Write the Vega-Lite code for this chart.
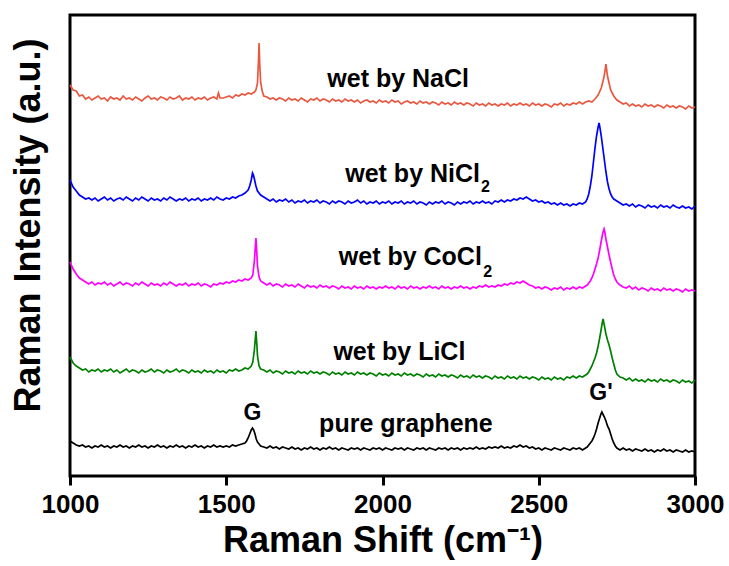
{
"$schema":"https://vega.github.io/schema/vega-lite/v6.json",
"width":625,"height":461,
"autosize":"none",
"padding":{"left":70,"top":15,"right":34,"bottom":90},
"background":"white",
"config":{"view":{"stroke":"black","strokeWidth":3},"font":"Liberation Sans"},
"datasets":{
"nacl":[{"x":1000,"y":391},{"x":1010,"y":386},{"x":1020,"y":385},{"x":1030,"y":380},{"x":1040,"y":381},{"x":1050,"y":377},{"x":1060,"y":379},{"x":1070,"y":376},{"x":1080,"y":378},{"x":1090,"y":380},{"x":1100,"y":377},{"x":1110,"y":378},{"x":1120,"y":375},{"x":1130,"y":379},{"x":1140,"y":377},{"x":1150,"y":378},{"x":1160,"y":376},{"x":1170,"y":380},{"x":1180,"y":377},{"x":1190,"y":378},{"x":1200,"y":376},{"x":1210,"y":379},{"x":1220,"y":377},{"x":1230,"y":375},{"x":1240,"y":378},{"x":1250,"y":380},{"x":1260,"y":377},{"x":1270,"y":378},{"x":1280,"y":376},{"x":1290,"y":379},{"x":1300,"y":378},{"x":1310,"y":376},{"x":1320,"y":379},{"x":1330,"y":377},{"x":1340,"y":378},{"x":1350,"y":380},{"x":1360,"y":376},{"x":1370,"y":378},{"x":1380,"y":377},{"x":1390,"y":379},{"x":1400,"y":376},{"x":1410,"y":378},{"x":1420,"y":377},{"x":1430,"y":379},{"x":1440,"y":376},{"x":1450,"y":378},{"x":1460,"y":379},{"x":1470,"y":377},{"x":1475,"y":383},{"x":1480,"y":378},{"x":1490,"y":378},{"x":1500,"y":379},{"x":1510,"y":380},{"x":1520,"y":378},{"x":1530,"y":381},{"x":1540,"y":380},{"x":1550,"y":382},{"x":1560,"y":381},{"x":1570,"y":383},{"x":1580,"y":382},{"x":1590,"y":384},{"x":1595,"y":386},{"x":1600,"y":393},{"x":1603,"y":414},{"x":1605,"y":433},{"x":1607,"y":413},{"x":1610,"y":394},{"x":1615,"y":385},{"x":1620,"y":380},{"x":1630,"y":379},{"x":1640,"y":377},{"x":1650,"y":378},{"x":1660,"y":376},{"x":1670,"y":378},{"x":1680,"y":377},{"x":1690,"y":375},{"x":1700,"y":378},{"x":1710,"y":376},{"x":1720,"y":377},{"x":1730,"y":375},{"x":1740,"y":378},{"x":1750,"y":376},{"x":1760,"y":374},{"x":1770,"y":377},{"x":1780,"y":376},{"x":1790,"y":378},{"x":1800,"y":375},{"x":1810,"y":377},{"x":1820,"y":376},{"x":1830,"y":374},{"x":1840,"y":377},{"x":1850,"y":375},{"x":1860,"y":376},{"x":1870,"y":374},{"x":1880,"y":377},{"x":1890,"y":375},{"x":1900,"y":376},{"x":1910,"y":374},{"x":1920,"y":376},{"x":1930,"y":373},{"x":1940,"y":375},{"x":1950,"y":376},{"x":1960,"y":374},{"x":1970,"y":375},{"x":1980,"y":373},{"x":1990,"y":376},{"x":2000,"y":374},{"x":2010,"y":375},{"x":2020,"y":373},{"x":2030,"y":376},{"x":2040,"y":374},{"x":2050,"y":375},{"x":2060,"y":372},{"x":2070,"y":374},{"x":2080,"y":375},{"x":2090,"y":373},{"x":2100,"y":374},{"x":2110,"y":372},{"x":2120,"y":375},{"x":2130,"y":373},{"x":2140,"y":374},{"x":2150,"y":372},{"x":2160,"y":374},{"x":2170,"y":373},{"x":2180,"y":371},{"x":2190,"y":374},{"x":2200,"y":372},{"x":2210,"y":373},{"x":2220,"y":371},{"x":2230,"y":374},{"x":2240,"y":372},{"x":2250,"y":373},{"x":2260,"y":371},{"x":2270,"y":373},{"x":2280,"y":372},{"x":2290,"y":370},{"x":2300,"y":373},{"x":2310,"y":371},{"x":2320,"y":372},{"x":2330,"y":370},{"x":2340,"y":373},{"x":2350,"y":371},{"x":2360,"y":372},{"x":2370,"y":370},{"x":2380,"y":372},{"x":2390,"y":371},{"x":2400,"y":373},{"x":2410,"y":370},{"x":2420,"y":372},{"x":2430,"y":371},{"x":2440,"y":373},{"x":2450,"y":371},{"x":2460,"y":372},{"x":2470,"y":370},{"x":2480,"y":373},{"x":2490,"y":371},{"x":2500,"y":372},{"x":2510,"y":370},{"x":2520,"y":372},{"x":2530,"y":371},{"x":2540,"y":369},{"x":2550,"y":372},{"x":2560,"y":371},{"x":2570,"y":373},{"x":2580,"y":370},{"x":2590,"y":372},{"x":2600,"y":371},{"x":2610,"y":373},{"x":2620,"y":372},{"x":2630,"y":374},{"x":2640,"y":372},{"x":2650,"y":374},{"x":2660,"y":375},{"x":2670,"y":374},{"x":2680,"y":377},{"x":2690,"y":381},{"x":2700,"y":388},{"x":2705,"y":394},{"x":2710,"y":401},{"x":2715,"y":412},{"x":2720,"y":400},{"x":2725,"y":393},{"x":2730,"y":386},{"x":2740,"y":380},{"x":2750,"y":376},{"x":2760,"y":374},{"x":2770,"y":372},{"x":2780,"y":373},{"x":2790,"y":370},{"x":2800,"y":372},{"x":2810,"y":370},{"x":2820,"y":371},{"x":2830,"y":369},{"x":2840,"y":372},{"x":2850,"y":370},{"x":2860,"y":371},{"x":2870,"y":369},{"x":2880,"y":371},{"x":2890,"y":370},{"x":2900,"y":368},{"x":2910,"y":371},{"x":2920,"y":369},{"x":2930,"y":370},{"x":2940,"y":368},{"x":2950,"y":370},{"x":2960,"y":369},{"x":2970,"y":367},{"x":2980,"y":370},{"x":2990,"y":368},{"x":3000,"y":369}],
"nicl":[{"x":1000,"y":296},{"x":1010,"y":289},{"x":1020,"y":285},{"x":1030,"y":281},{"x":1040,"y":279},{"x":1050,"y":277},{"x":1060,"y":278},{"x":1070,"y":276},{"x":1080,"y":278},{"x":1090,"y":275},{"x":1100,"y":277},{"x":1110,"y":279},{"x":1120,"y":276},{"x":1130,"y":278},{"x":1140,"y":275},{"x":1150,"y":277},{"x":1160,"y":278},{"x":1170,"y":276},{"x":1180,"y":279},{"x":1190,"y":277},{"x":1200,"y":275},{"x":1210,"y":278},{"x":1220,"y":276},{"x":1230,"y":279},{"x":1240,"y":277},{"x":1250,"y":275},{"x":1260,"y":278},{"x":1270,"y":276},{"x":1280,"y":277},{"x":1290,"y":275},{"x":1300,"y":278},{"x":1310,"y":276},{"x":1320,"y":279},{"x":1330,"y":277},{"x":1340,"y":275},{"x":1350,"y":277},{"x":1360,"y":276},{"x":1370,"y":278},{"x":1380,"y":275},{"x":1390,"y":277},{"x":1400,"y":276},{"x":1410,"y":278},{"x":1420,"y":275},{"x":1430,"y":277},{"x":1440,"y":276},{"x":1450,"y":278},{"x":1460,"y":276},{"x":1470,"y":279},{"x":1480,"y":277},{"x":1490,"y":276},{"x":1500,"y":278},{"x":1510,"y":277},{"x":1520,"y":279},{"x":1530,"y":278},{"x":1540,"y":280},{"x":1550,"y":281},{"x":1560,"y":283},{"x":1570,"y":286},{"x":1575,"y":290},{"x":1580,"y":296},{"x":1584,"y":303},{"x":1587,"y":301},{"x":1590,"y":297},{"x":1595,"y":290},{"x":1600,"y":285},{"x":1610,"y":281},{"x":1620,"y":279},{"x":1630,"y":277},{"x":1640,"y":275},{"x":1650,"y":277},{"x":1660,"y":274},{"x":1670,"y":276},{"x":1680,"y":275},{"x":1690,"y":277},{"x":1700,"y":274},{"x":1710,"y":276},{"x":1720,"y":273},{"x":1730,"y":275},{"x":1740,"y":274},{"x":1750,"y":276},{"x":1760,"y":273},{"x":1770,"y":275},{"x":1780,"y":274},{"x":1790,"y":276},{"x":1800,"y":273},{"x":1810,"y":275},{"x":1820,"y":274},{"x":1830,"y":272},{"x":1840,"y":275},{"x":1850,"y":273},{"x":1860,"y":275},{"x":1870,"y":274},{"x":1880,"y":272},{"x":1890,"y":275},{"x":1900,"y":273},{"x":1910,"y":274},{"x":1920,"y":276},{"x":1930,"y":273},{"x":1940,"y":275},{"x":1950,"y":272},{"x":1960,"y":274},{"x":1970,"y":273},{"x":1980,"y":275},{"x":1990,"y":272},{"x":2000,"y":274},{"x":2010,"y":273},{"x":2020,"y":275},{"x":2030,"y":272},{"x":2040,"y":274},{"x":2050,"y":273},{"x":2060,"y":275},{"x":2070,"y":272},{"x":2080,"y":274},{"x":2090,"y":273},{"x":2100,"y":275},{"x":2110,"y":272},{"x":2120,"y":274},{"x":2130,"y":273},{"x":2140,"y":271},{"x":2150,"y":274},{"x":2160,"y":272},{"x":2170,"y":274},{"x":2180,"y":273},{"x":2190,"y":275},{"x":2200,"y":272},{"x":2210,"y":274},{"x":2220,"y":273},{"x":2230,"y":271},{"x":2240,"y":274},{"x":2250,"y":272},{"x":2260,"y":274},{"x":2270,"y":273},{"x":2280,"y":275},{"x":2290,"y":272},{"x":2300,"y":274},{"x":2310,"y":273},{"x":2320,"y":275},{"x":2330,"y":273},{"x":2340,"y":274},{"x":2350,"y":272},{"x":2360,"y":275},{"x":2370,"y":274},{"x":2380,"y":276},{"x":2390,"y":274},{"x":2400,"y":276},{"x":2410,"y":275},{"x":2420,"y":277},{"x":2430,"y":276},{"x":2440,"y":278},{"x":2450,"y":277},{"x":2460,"y":279},{"x":2470,"y":277},{"x":2480,"y":275},{"x":2490,"y":276},{"x":2500,"y":274},{"x":2510,"y":275},{"x":2520,"y":273},{"x":2530,"y":274},{"x":2540,"y":272},{"x":2550,"y":273},{"x":2560,"y":271},{"x":2570,"y":273},{"x":2580,"y":271},{"x":2590,"y":272},{"x":2600,"y":270},{"x":2610,"y":272},{"x":2620,"y":271},{"x":2630,"y":273},{"x":2640,"y":272},{"x":2650,"y":274},{"x":2655,"y":277},{"x":2660,"y":282},{"x":2665,"y":290},{"x":2670,"y":300},{"x":2675,"y":314},{"x":2680,"y":328},{"x":2685,"y":340},{"x":2690,"y":349},{"x":2693,"y":353},{"x":2696,"y":348},{"x":2700,"y":340},{"x":2705,"y":328},{"x":2710,"y":316},{"x":2715,"y":304},{"x":2720,"y":294},{"x":2725,"y":287},{"x":2730,"y":282},{"x":2735,"y":279},{"x":2740,"y":277},{"x":2750,"y":275},{"x":2760,"y":273},{"x":2770,"y":271},{"x":2780,"y":272},{"x":2790,"y":270},{"x":2800,"y":272},{"x":2810,"y":269},{"x":2820,"y":271},{"x":2830,"y":270},{"x":2840,"y":268},{"x":2850,"y":271},{"x":2860,"y":269},{"x":2870,"y":270},{"x":2880,"y":268},{"x":2890,"y":271},{"x":2900,"y":269},{"x":2910,"y":270},{"x":2920,"y":268},{"x":2930,"y":271},{"x":2940,"y":269},{"x":2950,"y":268},{"x":2960,"y":270},{"x":2970,"y":268},{"x":2980,"y":269},{"x":2990,"y":267},{"x":3000,"y":270}],
"cocl":[{"x":1000,"y":214},{"x":1010,"y":207},{"x":1020,"y":202},{"x":1030,"y":198},{"x":1040,"y":196},{"x":1050,"y":194},{"x":1060,"y":192},{"x":1070,"y":194},{"x":1080,"y":191},{"x":1090,"y":193},{"x":1100,"y":192},{"x":1110,"y":194},{"x":1120,"y":191},{"x":1130,"y":193},{"x":1140,"y":190},{"x":1150,"y":192},{"x":1160,"y":194},{"x":1170,"y":191},{"x":1180,"y":193},{"x":1190,"y":192},{"x":1200,"y":190},{"x":1210,"y":193},{"x":1220,"y":191},{"x":1230,"y":194},{"x":1240,"y":192},{"x":1250,"y":190},{"x":1260,"y":193},{"x":1270,"y":191},{"x":1280,"y":192},{"x":1290,"y":190},{"x":1300,"y":193},{"x":1310,"y":191},{"x":1320,"y":194},{"x":1330,"y":192},{"x":1340,"y":190},{"x":1350,"y":192},{"x":1360,"y":191},{"x":1370,"y":193},{"x":1380,"y":190},{"x":1390,"y":192},{"x":1400,"y":191},{"x":1410,"y":193},{"x":1420,"y":190},{"x":1430,"y":192},{"x":1440,"y":191},{"x":1450,"y":189},{"x":1460,"y":192},{"x":1470,"y":191},{"x":1480,"y":193},{"x":1490,"y":192},{"x":1500,"y":194},{"x":1510,"y":193},{"x":1520,"y":195},{"x":1530,"y":194},{"x":1540,"y":196},{"x":1550,"y":195},{"x":1560,"y":197},{"x":1570,"y":196},{"x":1580,"y":198},{"x":1585,"y":201},{"x":1590,"y":215},{"x":1595,"y":238},{"x":1598,"y":222},{"x":1600,"y":210},{"x":1605,"y":199},{"x":1610,"y":195},{"x":1620,"y":193},{"x":1630,"y":191},{"x":1640,"y":193},{"x":1650,"y":190},{"x":1660,"y":192},{"x":1670,"y":191},{"x":1680,"y":189},{"x":1690,"y":192},{"x":1700,"y":190},{"x":1710,"y":191},{"x":1720,"y":189},{"x":1730,"y":192},{"x":1740,"y":190},{"x":1750,"y":188},{"x":1760,"y":191},{"x":1770,"y":189},{"x":1780,"y":190},{"x":1790,"y":188},{"x":1800,"y":191},{"x":1810,"y":189},{"x":1820,"y":190},{"x":1830,"y":188},{"x":1840,"y":190},{"x":1850,"y":189},{"x":1860,"y":187},{"x":1870,"y":190},{"x":1880,"y":188},{"x":1890,"y":189},{"x":1900,"y":187},{"x":1910,"y":190},{"x":1920,"y":188},{"x":1930,"y":189},{"x":1940,"y":187},{"x":1950,"y":190},{"x":1960,"y":188},{"x":1970,"y":189},{"x":1980,"y":187},{"x":1990,"y":189},{"x":2000,"y":188},{"x":2010,"y":190},{"x":2020,"y":188},{"x":2030,"y":189},{"x":2040,"y":187},{"x":2050,"y":190},{"x":2060,"y":188},{"x":2070,"y":189},{"x":2080,"y":187},{"x":2090,"y":190},{"x":2100,"y":188},{"x":2110,"y":189},{"x":2120,"y":187},{"x":2130,"y":189},{"x":2140,"y":188},{"x":2150,"y":190},{"x":2160,"y":188},{"x":2170,"y":189},{"x":2180,"y":187},{"x":2190,"y":190},{"x":2200,"y":188},{"x":2210,"y":189},{"x":2220,"y":187},{"x":2230,"y":189},{"x":2240,"y":188},{"x":2250,"y":190},{"x":2260,"y":188},{"x":2270,"y":189},{"x":2280,"y":187},{"x":2290,"y":189},{"x":2300,"y":188},{"x":2310,"y":190},{"x":2320,"y":189},{"x":2330,"y":191},{"x":2340,"y":189},{"x":2350,"y":190},{"x":2360,"y":189},{"x":2370,"y":191},{"x":2380,"y":190},{"x":2390,"y":192},{"x":2400,"y":191},{"x":2410,"y":193},{"x":2420,"y":192},{"x":2430,"y":194},{"x":2440,"y":193},{"x":2450,"y":195},{"x":2460,"y":193},{"x":2470,"y":191},{"x":2480,"y":190},{"x":2490,"y":188},{"x":2500,"y":189},{"x":2510,"y":187},{"x":2520,"y":189},{"x":2530,"y":188},{"x":2540,"y":186},{"x":2550,"y":188},{"x":2560,"y":187},{"x":2570,"y":189},{"x":2580,"y":186},{"x":2590,"y":188},{"x":2600,"y":187},{"x":2610,"y":189},{"x":2620,"y":187},{"x":2630,"y":189},{"x":2640,"y":188},{"x":2650,"y":190},{"x":2655,"y":191},{"x":2660,"y":193},{"x":2665,"y":195},{"x":2670,"y":198},{"x":2675,"y":202},{"x":2680,"y":207},{"x":2685,"y":212},{"x":2690,"y":218},{"x":2695,"y":226},{"x":2700,"y":235},{"x":2705,"y":243},{"x":2709,"y":247},{"x":2712,"y":243},{"x":2715,"y":237},{"x":2720,"y":229},{"x":2725,"y":221},{"x":2730,"y":214},{"x":2735,"y":207},{"x":2740,"y":201},{"x":2745,"y":197},{"x":2750,"y":194},{"x":2760,"y":191},{"x":2770,"y":189},{"x":2780,"y":188},{"x":2790,"y":190},{"x":2800,"y":187},{"x":2810,"y":189},{"x":2820,"y":186},{"x":2830,"y":188},{"x":2840,"y":187},{"x":2850,"y":185},{"x":2860,"y":188},{"x":2870,"y":186},{"x":2880,"y":187},{"x":2890,"y":185},{"x":2900,"y":188},{"x":2910,"y":186},{"x":2920,"y":187},{"x":2930,"y":185},{"x":2940,"y":187},{"x":2950,"y":186},{"x":2960,"y":184},{"x":2970,"y":187},{"x":2980,"y":185},{"x":2990,"y":186},{"x":3000,"y":185}],
"licl":[{"x":1000,"y":119},{"x":1010,"y":113},{"x":1020,"y":110},{"x":1030,"y":108},{"x":1040,"y":106},{"x":1050,"y":107},{"x":1060,"y":104},{"x":1070,"y":106},{"x":1080,"y":105},{"x":1090,"y":107},{"x":1100,"y":104},{"x":1110,"y":106},{"x":1120,"y":105},{"x":1130,"y":107},{"x":1140,"y":104},{"x":1150,"y":106},{"x":1160,"y":103},{"x":1170,"y":105},{"x":1180,"y":107},{"x":1190,"y":104},{"x":1200,"y":106},{"x":1210,"y":105},{"x":1220,"y":103},{"x":1230,"y":106},{"x":1240,"y":104},{"x":1250,"y":105},{"x":1260,"y":107},{"x":1270,"y":104},{"x":1280,"y":106},{"x":1290,"y":105},{"x":1300,"y":103},{"x":1310,"y":106},{"x":1320,"y":104},{"x":1330,"y":105},{"x":1340,"y":107},{"x":1350,"y":104},{"x":1360,"y":106},{"x":1370,"y":105},{"x":1380,"y":103},{"x":1390,"y":106},{"x":1400,"y":104},{"x":1410,"y":105},{"x":1420,"y":103},{"x":1430,"y":106},{"x":1440,"y":104},{"x":1450,"y":105},{"x":1460,"y":103},{"x":1470,"y":106},{"x":1480,"y":104},{"x":1490,"y":105},{"x":1500,"y":103},{"x":1510,"y":106},{"x":1520,"y":105},{"x":1530,"y":107},{"x":1540,"y":105},{"x":1550,"y":106},{"x":1560,"y":108},{"x":1570,"y":107},{"x":1580,"y":110},{"x":1585,"y":114},{"x":1590,"y":126},{"x":1595,"y":145},{"x":1598,"y":131},{"x":1600,"y":120},{"x":1605,"y":110},{"x":1610,"y":107},{"x":1620,"y":106},{"x":1630,"y":104},{"x":1640,"y":106},{"x":1650,"y":103},{"x":1660,"y":105},{"x":1670,"y":104},{"x":1680,"y":102},{"x":1690,"y":105},{"x":1700,"y":103},{"x":1710,"y":104},{"x":1720,"y":102},{"x":1730,"y":105},{"x":1740,"y":103},{"x":1750,"y":104},{"x":1760,"y":102},{"x":1770,"y":105},{"x":1780,"y":103},{"x":1790,"y":104},{"x":1800,"y":102},{"x":1810,"y":104},{"x":1820,"y":103},{"x":1830,"y":101},{"x":1840,"y":104},{"x":1850,"y":102},{"x":1860,"y":103},{"x":1870,"y":101},{"x":1880,"y":104},{"x":1890,"y":102},{"x":1900,"y":103},{"x":1910,"y":101},{"x":1920,"y":104},{"x":1930,"y":102},{"x":1940,"y":103},{"x":1950,"y":101},{"x":1960,"y":103},{"x":1970,"y":102},{"x":1980,"y":100},{"x":1990,"y":103},{"x":2000,"y":101},{"x":2010,"y":102},{"x":2020,"y":100},{"x":2030,"y":103},{"x":2040,"y":101},{"x":2050,"y":102},{"x":2060,"y":100},{"x":2070,"y":103},{"x":2080,"y":101},{"x":2090,"y":102},{"x":2100,"y":100},{"x":2110,"y":102},{"x":2120,"y":101},{"x":2130,"y":99},{"x":2140,"y":102},{"x":2150,"y":100},{"x":2160,"y":101},{"x":2170,"y":99},{"x":2180,"y":102},{"x":2190,"y":100},{"x":2200,"y":101},{"x":2210,"y":99},{"x":2220,"y":101},{"x":2230,"y":100},{"x":2240,"y":98},{"x":2250,"y":101},{"x":2260,"y":99},{"x":2270,"y":100},{"x":2280,"y":98},{"x":2290,"y":101},{"x":2300,"y":99},{"x":2310,"y":100},{"x":2320,"y":98},{"x":2330,"y":100},{"x":2340,"y":99},{"x":2350,"y":97},{"x":2360,"y":100},{"x":2370,"y":98},{"x":2380,"y":99},{"x":2390,"y":97},{"x":2400,"y":100},{"x":2410,"y":98},{"x":2420,"y":99},{"x":2430,"y":97},{"x":2440,"y":100},{"x":2450,"y":98},{"x":2460,"y":99},{"x":2470,"y":97},{"x":2480,"y":99},{"x":2490,"y":98},{"x":2500,"y":96},{"x":2510,"y":99},{"x":2520,"y":97},{"x":2530,"y":98},{"x":2540,"y":96},{"x":2550,"y":99},{"x":2560,"y":97},{"x":2570,"y":98},{"x":2580,"y":96},{"x":2590,"y":99},{"x":2600,"y":98},{"x":2610,"y":100},{"x":2620,"y":98},{"x":2630,"y":100},{"x":2640,"y":99},{"x":2650,"y":101},{"x":2655,"y":102},{"x":2660,"y":104},{"x":2665,"y":107},{"x":2670,"y":110},{"x":2675,"y":114},{"x":2680,"y":118},{"x":2685,"y":123},{"x":2690,"y":130},{"x":2695,"y":138},{"x":2700,"y":147},{"x":2703,"y":153},{"x":2706,"y":157},{"x":2709,"y":152},{"x":2712,"y":147},{"x":2715,"y":142},{"x":2720,"y":136},{"x":2725,"y":131},{"x":2730,"y":125},{"x":2735,"y":118},{"x":2740,"y":112},{"x":2745,"y":106},{"x":2750,"y":102},{"x":2760,"y":99},{"x":2770,"y":98},{"x":2780,"y":96},{"x":2790,"y":98},{"x":2800,"y":95},{"x":2810,"y":97},{"x":2820,"y":95},{"x":2830,"y":96},{"x":2840,"y":94},{"x":2850,"y":97},{"x":2860,"y":95},{"x":2870,"y":96},{"x":2880,"y":94},{"x":2890,"y":97},{"x":2900,"y":95},{"x":2910,"y":96},{"x":2920,"y":94},{"x":2930,"y":96},{"x":2940,"y":95},{"x":2950,"y":93},{"x":2960,"y":96},{"x":2970,"y":94},{"x":2980,"y":95},{"x":2990,"y":93},{"x":3000,"y":96}],
"pure":[{"x":1000,"y":35},{"x":1010,"y":33},{"x":1020,"y":31},{"x":1030,"y":30},{"x":1040,"y":31},{"x":1050,"y":29},{"x":1060,"y":30},{"x":1070,"y":28},{"x":1080,"y":30},{"x":1090,"y":29},{"x":1100,"y":31},{"x":1110,"y":29},{"x":1120,"y":30},{"x":1130,"y":28},{"x":1140,"y":30},{"x":1150,"y":29},{"x":1160,"y":31},{"x":1170,"y":29},{"x":1180,"y":30},{"x":1190,"y":28},{"x":1200,"y":30},{"x":1210,"y":29},{"x":1220,"y":31},{"x":1230,"y":29},{"x":1240,"y":30},{"x":1250,"y":28},{"x":1260,"y":30},{"x":1270,"y":29},{"x":1280,"y":31},{"x":1290,"y":29},{"x":1300,"y":30},{"x":1310,"y":28},{"x":1320,"y":30},{"x":1330,"y":29},{"x":1340,"y":31},{"x":1350,"y":29},{"x":1360,"y":30},{"x":1370,"y":28},{"x":1380,"y":30},{"x":1390,"y":29},{"x":1400,"y":31},{"x":1410,"y":29},{"x":1420,"y":30},{"x":1430,"y":28},{"x":1440,"y":30},{"x":1450,"y":29},{"x":1460,"y":31},{"x":1470,"y":29},{"x":1480,"y":30},{"x":1490,"y":29},{"x":1500,"y":30},{"x":1510,"y":29},{"x":1520,"y":31},{"x":1530,"y":30},{"x":1540,"y":31},{"x":1550,"y":32},{"x":1560,"y":33},{"x":1565,"y":35},{"x":1570,"y":38},{"x":1575,"y":42},{"x":1580,"y":46},{"x":1584,"y":48},{"x":1588,"y":46},{"x":1592,"y":42},{"x":1596,"y":37},{"x":1600,"y":34},{"x":1605,"y":32},{"x":1610,"y":30},{"x":1620,"y":29},{"x":1630,"y":28},{"x":1640,"y":30},{"x":1650,"y":28},{"x":1660,"y":29},{"x":1670,"y":27},{"x":1680,"y":29},{"x":1690,"y":28},{"x":1700,"y":27},{"x":1710,"y":29},{"x":1720,"y":27},{"x":1730,"y":28},{"x":1740,"y":26},{"x":1750,"y":28},{"x":1760,"y":27},{"x":1770,"y":29},{"x":1780,"y":27},{"x":1790,"y":28},{"x":1800,"y":26},{"x":1810,"y":28},{"x":1820,"y":27},{"x":1830,"y":29},{"x":1840,"y":27},{"x":1850,"y":28},{"x":1860,"y":26},{"x":1870,"y":28},{"x":1880,"y":27},{"x":1890,"y":26},{"x":1900,"y":28},{"x":1910,"y":27},{"x":1920,"y":28},{"x":1930,"y":26},{"x":1940,"y":28},{"x":1950,"y":27},{"x":1960,"y":26},{"x":1970,"y":28},{"x":1980,"y":27},{"x":1990,"y":28},{"x":2000,"y":26},{"x":2010,"y":28},{"x":2020,"y":27},{"x":2030,"y":26},{"x":2040,"y":28},{"x":2050,"y":27},{"x":2060,"y":28},{"x":2070,"y":26},{"x":2080,"y":28},{"x":2090,"y":27},{"x":2100,"y":26},{"x":2110,"y":28},{"x":2120,"y":27},{"x":2130,"y":28},{"x":2140,"y":26},{"x":2150,"y":28},{"x":2160,"y":27},{"x":2170,"y":26},{"x":2180,"y":28},{"x":2190,"y":27},{"x":2200,"y":28},{"x":2210,"y":26},{"x":2220,"y":28},{"x":2230,"y":27},{"x":2240,"y":28},{"x":2250,"y":26},{"x":2260,"y":28},{"x":2270,"y":27},{"x":2280,"y":28},{"x":2290,"y":27},{"x":2300,"y":29},{"x":2310,"y":27},{"x":2320,"y":28},{"x":2330,"y":27},{"x":2340,"y":29},{"x":2350,"y":28},{"x":2360,"y":29},{"x":2370,"y":28},{"x":2380,"y":30},{"x":2390,"y":28},{"x":2400,"y":29},{"x":2410,"y":28},{"x":2420,"y":30},{"x":2430,"y":29},{"x":2440,"y":31},{"x":2450,"y":29},{"x":2460,"y":30},{"x":2470,"y":28},{"x":2480,"y":29},{"x":2490,"y":27},{"x":2500,"y":28},{"x":2510,"y":26},{"x":2520,"y":28},{"x":2530,"y":27},{"x":2540,"y":26},{"x":2550,"y":28},{"x":2560,"y":27},{"x":2570,"y":26},{"x":2580,"y":28},{"x":2590,"y":27},{"x":2600,"y":26},{"x":2610,"y":28},{"x":2620,"y":27},{"x":2630,"y":28},{"x":2640,"y":26},{"x":2650,"y":28},{"x":2655,"y":29},{"x":2660,"y":31},{"x":2665,"y":33},{"x":2670,"y":35},{"x":2675,"y":38},{"x":2680,"y":42},{"x":2685,"y":47},{"x":2690,"y":53},{"x":2695,"y":58},{"x":2699,"y":62},{"x":2702,"y":64},{"x":2705,"y":62},{"x":2710,"y":59},{"x":2715,"y":55},{"x":2720,"y":50},{"x":2725,"y":47},{"x":2730,"y":42},{"x":2735,"y":37},{"x":2740,"y":33},{"x":2745,"y":30},{"x":2750,"y":28},{"x":2760,"y":26},{"x":2770,"y":28},{"x":2780,"y":26},{"x":2790,"y":27},{"x":2800,"y":25},{"x":2810,"y":27},{"x":2820,"y":26},{"x":2830,"y":25},{"x":2840,"y":27},{"x":2850,"y":25},{"x":2860,"y":26},{"x":2870,"y":24},{"x":2880,"y":26},{"x":2890,"y":25},{"x":2900,"y":27},{"x":2910,"y":25},{"x":2920,"y":26},{"x":2930,"y":24},{"x":2940,"y":26},{"x":2950,"y":25},{"x":2960,"y":24},{"x":2970,"y":26},{"x":2980,"y":24},{"x":2990,"y":25},{"x":3000,"y":24}],
"labc":[{"x":2050,"y":389,"t":"wet by NaCl"},{"x":2054,"y":116,"t":"wet by LiCl"},{"x":2075,"y":44,"t":"pure graphene"}],
"labr":[{"x":2312,"y":294,"t":"wet by NiCl"},{"x":2318,"y":211,"t":"wet by CoCl"}],
"subs":[{"x":2315,"y":284,"t":"2"},{"x":2322,"y":199,"t":"2"}],
"peaks":[{"x":1584,"y":56,"t":"G"},{"x":2699,"y":76,"t":"G'"}]
},
"encoding":{
"x":{"field":"x","type":"quantitative","scale":{"domain":[1000,3000],"nice":false,"zero":false},
"axis":{"title":"Raman Shift (cm⁻¹)","values":[1000,1500,2000,2500,3000],"format":"d","domain":false,"grid":false,"tickSize":9,"tickWidth":3,"tickColor":"black","labelFont":"Liberation Sans","labelFontWeight":"bold","labelFontSize":26,"labelColor":"black","labelPadding":6,"labelFlush":false,"titleFont":"Liberation Sans","titleFontSize":36,"titleFontWeight":"bold","titleColor":"black","titlePadding":6}},
"y":{"field":"y","type":"quantitative","scale":{"domain":[0,461],"nice":false},
"axis":{"title":"Raman Intensity (a.u.)","ticks":false,"labels":false,"domain":false,"grid":false,"titleFont":"Liberation Sans","titleFontSize":36,"titleFontWeight":"bold","titleColor":"black","titleX":-42,"titleY":210,"titleAngle":270,"titleAlign":"center","titleBaseline":"middle"}}
},
"layer":[
{"data":{"name":"nacl"},"mark":{"type":"line","color":"#E9573F","strokeWidth":1.7}},
{"data":{"name":"nicl"},"mark":{"type":"line","color":"#0000FF","strokeWidth":1.7}},
{"data":{"name":"cocl"},"mark":{"type":"line","color":"#FF00FF","strokeWidth":1.7}},
{"data":{"name":"licl"},"mark":{"type":"line","color":"#008000","strokeWidth":1.7}},
{"data":{"name":"pure"},"mark":{"type":"line","color":"#000000","strokeWidth":1.7}},
{"data":{"name":"labc"},"mark":{"type":"text","font":"Liberation Sans","fontWeight":"bold","fontSize":25,"align":"center","baseline":"alphabetic","color":"black"},"encoding":{"text":{"field":"t"}}},
{"data":{"name":"labr"},"mark":{"type":"text","font":"Liberation Sans","fontWeight":"bold","fontSize":25,"align":"right","baseline":"alphabetic","color":"black"},"encoding":{"text":{"field":"t"}}},
{"data":{"name":"subs"},"mark":{"type":"text","font":"Liberation Sans","fontWeight":"bold","fontSize":16,"align":"left","baseline":"alphabetic","color":"black"},"encoding":{"text":{"field":"t"}}},
{"data":{"name":"peaks"},"mark":{"type":"text","font":"Liberation Sans","fontWeight":"bold","fontSize":23,"align":"center","baseline":"alphabetic","color":"black"},"encoding":{"text":{"field":"t"}}}
]
}
